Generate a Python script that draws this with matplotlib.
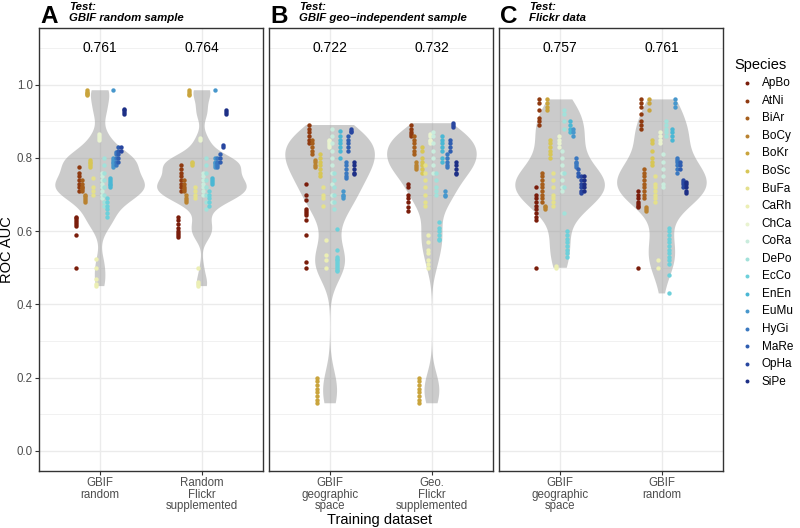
import numpy as np
import matplotlib.pyplot as plt

plt.rcParams['font.family'] = ['Liberation Sans', 'DejaVu Sans']

# species and their colours (brown -> yellow -> cyan -> navy)
species = ['ApBo', 'AtNi', 'BiAr', 'BoCy', 'BoKr', 'BoSc', 'BuFa', 'CaRh', 'ChCa',
           'CoRa', 'DePo', 'EcCo', 'EnEn', 'EuMu', 'HyGi', 'MaRe', 'OpHa', 'SiPe']
species_colors = ['#7a1d0b', '#8f3a10', '#a65e1c', '#b98230', '#c9a43c', '#d7c656',
                  '#e4e08c', '#ecefb4', '#e9f3d0', '#c9ecdd', '#a2e1da', '#6dd0da',
                  '#4ab7d4', '#4797cc', '#3a78c0', '#2f5db0', '#2846a0', '#1d2f86']

panel_tags = ['A', 'B', 'C']
panel_titles = ['GBIF random sample', 'GBIF geo\u2212independent sample', 'Flickr data']
train_labels = [['GBIF\nrandom', 'Random\nFlickr\nsupplemented'],
                ['GBIF\ngeographic\nspace', 'Geo.\nFlickr\nsupplemented'],
                ['GBIF\ngeographic\nspace', 'GBIF\nrandom']]
mean_auc = [[0.761, 0.764], [0.722, 0.732], [0.757, 0.761]]

# ROC AUC per species (order as in `species`)
auc_a_gbif_random = [
    [0.64, 0.635, 0.63, 0.625, 0.62, 0.615, 0.59, 0.50],
    [0.775, 0.76, 0.75, 0.74, 0.73, 0.72, 0.71],
    [0.74, 0.73, 0.72, 0.715, 0.71, 0.72],
    [0.70, 0.695, 0.69, 0.685, 0.68],
    [0.985, 0.98, 0.978, 0.975, 0.972],
    [0.795, 0.79, 0.785, 0.78, 0.775],
    [0.745, 0.72, 0.71, 0.70],
    [0.525, 0.50, 0.47, 0.455, 0.45],
    [0.865, 0.86, 0.855, 0.85],
    [0.76, 0.75, 0.74, 0.73, 0.72, 0.71, 0.70, 0.69],
    [0.80, 0.78, 0.76, 0.74, 0.72, 0.70, 0.68, 0.67],
    [0.69, 0.68, 0.67, 0.66, 0.65, 0.64],
    [0.745, 0.74, 0.735, 0.73, 0.725, 0.72],
    [0.985, 0.80, 0.795, 0.79, 0.785, 0.78, 0.775],
    [0.815, 0.81, 0.80, 0.79, 0.78],
    [0.83, 0.82, 0.81, 0.80, 0.79],
    [0.83, 0.82],
    [0.935, 0.93, 0.925, 0.92],
]
auc_a_flickr_random = [
    [0.64, 0.63, 0.62, 0.61, 0.60, 0.595, 0.59, 0.585],
    [0.78, 0.77, 0.76, 0.75, 0.74, 0.73, 0.72, 0.71],
    [0.74, 0.73, 0.72, 0.715, 0.71],
    [0.70, 0.69, 0.685, 0.68],
    [0.985, 0.98, 0.975, 0.972],
    [0.79, 0.785, 0.78],
    [0.72, 0.71, 0.70, 0.69],
    [0.50, 0.46, 0.455, 0.45],
    [0.855, 0.85],
    [0.76, 0.75, 0.74, 0.73, 0.72, 0.71, 0.70],
    [0.80, 0.78, 0.76, 0.74, 0.72, 0.70, 0.68, 0.66],
    [0.71, 0.70, 0.69, 0.68, 0.67],
    [0.745, 0.74, 0.735, 0.73],
    [0.985, 0.80, 0.79, 0.785, 0.78, 0.775],
    [0.80, 0.79, 0.785, 0.78, 0.775],
    [0.81, 0.80, 0.79],
    [0.835, 0.83],
    [0.93, 0.925, 0.92],
]
auc_b_gbif_geo = [
    [0.73, 0.70, 0.685, 0.66, 0.655, 0.65, 0.645, 0.63, 0.59, 0.515, 0.50],
    [0.89, 0.88, 0.87, 0.86, 0.85, 0.84],
    [0.85, 0.84, 0.83, 0.82, 0.81],
    [0.795, 0.79, 0.78, 0.775],
    [0.20, 0.19, 0.18, 0.17, 0.16, 0.15, 0.14, 0.13],
    [0.81, 0.80, 0.79, 0.78, 0.77, 0.76, 0.75],
    [0.72, 0.70, 0.69, 0.67],
    [0.575, 0.535, 0.52, 0.50],
    [0.85, 0.845, 0.84, 0.835, 0.83],
    [0.88, 0.86, 0.84, 0.82, 0.80, 0.78, 0.76, 0.73, 0.70, 0.68],
    [0.76, 0.74, 0.72, 0.70, 0.68, 0.66],
    [0.605, 0.55, 0.53, 0.525, 0.52, 0.515, 0.51, 0.505, 0.50, 0.495, 0.49],
    [0.875, 0.86, 0.85, 0.84, 0.83, 0.82, 0.80],
    [0.71, 0.70, 0.695, 0.69],
    [0.79, 0.78, 0.77, 0.76, 0.75, 0.745],
    [0.86, 0.85, 0.84, 0.83, 0.82],
    [0.88, 0.875, 0.87],
    [0.79, 0.78, 0.77, 0.76, 0.755],
]
auc_b_flickr_geo = [
    [0.73, 0.72, 0.70, 0.69, 0.68, 0.665, 0.655],
    [0.89, 0.88, 0.87, 0.865, 0.86],
    [0.86, 0.85, 0.84, 0.83, 0.82, 0.81],
    [0.79, 0.78, 0.775, 0.77],
    [0.20, 0.19, 0.18, 0.17, 0.16, 0.15, 0.14, 0.13],
    [0.83, 0.82, 0.80, 0.79, 0.78, 0.77, 0.76],
    [0.78, 0.76, 0.74, 0.72, 0.70, 0.68, 0.67],
    [0.59, 0.57, 0.55, 0.54, 0.52, 0.51, 0.50],
    [0.865, 0.86, 0.85, 0.845, 0.84],
    [0.87, 0.86, 0.84, 0.82, 0.80, 0.78, 0.76],
    [0.76, 0.74, 0.72, 0.71, 0.70],
    [0.625, 0.61, 0.60, 0.59, 0.58, 0.575],
    [0.86, 0.85, 0.84, 0.83, 0.82, 0.80, 0.79],
    [0.71, 0.70, 0.695],
    [0.81, 0.80, 0.79, 0.78, 0.775],
    [0.85, 0.84, 0.83, 0.82],
    [0.895, 0.89, 0.885],
    [0.79, 0.78, 0.77, 0.76, 0.755],
]
auc_c_gbif_geo = [
    [0.72, 0.70, 0.69, 0.68, 0.67, 0.66, 0.65, 0.64, 0.63, 0.50],
    [0.96, 0.95, 0.93, 0.91, 0.90, 0.89],
    [0.76, 0.75, 0.74, 0.73, 0.72, 0.71, 0.70, 0.69, 0.68],
    [0.67, 0.665, 0.66],
    [0.96, 0.95, 0.94, 0.93],
    [0.85, 0.84, 0.83, 0.82, 0.81, 0.80],
    [0.76, 0.74, 0.72, 0.70, 0.69, 0.68, 0.67],
    [0.50, 0.505],
    [0.86, 0.85, 0.84, 0.83],
    [0.82, 0.80, 0.78, 0.76, 0.74, 0.72, 0.71],
    [0.93, 0.92, 0.90, 0.88, 0.76, 0.72, 0.65],
    [0.60, 0.59, 0.58, 0.57, 0.56, 0.55, 0.54, 0.53],
    [0.90, 0.89, 0.88, 0.87],
    [0.88, 0.87, 0.86],
    [0.80, 0.79, 0.785, 0.78, 0.775],
    [0.77, 0.76, 0.75],
    [0.75, 0.74, 0.73, 0.72, 0.71, 0.705],
    [0.75, 0.74, 0.73, 0.72, 0.71],
]
auc_c_gbif_random = [
    [0.71, 0.70, 0.69, 0.68, 0.675, 0.67, 0.665, 0.50],
    [0.96, 0.95, 0.94, 0.92, 0.90, 0.89, 0.88],
    [0.77, 0.76, 0.75, 0.74, 0.73, 0.72, 0.71, 0.70, 0.69],
    [0.665, 0.66, 0.655],
    [0.96, 0.95, 0.93],
    [0.85, 0.84, 0.82, 0.80, 0.79, 0.78],
    [0.75, 0.73, 0.72, 0.71, 0.70, 0.69, 0.68],
    [0.52, 0.50],
    [0.87, 0.86, 0.85, 0.84],
    [0.81, 0.79, 0.77, 0.75, 0.73, 0.72],
    [0.90, 0.89, 0.88, 0.87, 0.86],
    [0.61, 0.60, 0.59, 0.58, 0.57, 0.56, 0.55, 0.54, 0.53, 0.52, 0.51, 0.48, 0.43],
    [0.88, 0.87, 0.86, 0.85],
    [0.96, 0.95, 0.94],
    [0.80, 0.795, 0.79, 0.78, 0.77, 0.76],
    [0.79, 0.78, 0.77],
    [0.74, 0.735, 0.73, 0.72],
    [0.735, 0.73, 0.72, 0.71, 0.705],
]

panel_data = [[auc_a_gbif_random, auc_a_flickr_random],
              [auc_b_gbif_geo, auc_b_flickr_geo],
              [auc_c_gbif_geo, auc_c_gbif_random]]


def nrd0(kde):
    # R's default bandwidth (bw.nrd0), as used by ggplot's violins
    d = kde.dataset.ravel()
    sd = np.std(d, ddof=1)
    q75, q25 = np.percentile(d, [75, 25])
    lo = min(sd, (q75 - q25) / 1.34)
    if lo <= 0:
        lo = sd
    return 0.9 * lo * len(d) ** -0.2 / sd


W, H = 800, 528
fig = plt.figure(figsize=(W / 100, H / 100), dpi=100)

lefts = [39, 269, 499]
top_px, bot_px, width_px = 28, 471, 224
n_sp = len(species)
dodge = 0.5

for p in range(3):
    ax = fig.add_axes([lefts[p] / W, 1 - bot_px / H, width_px / W, (bot_px - top_px) / H])
    ax.set_xlim(0.4, 2.6)
    ax.set_ylim(-0.055, 1.155)
    ax.set_axisbelow(True)

    groups = [np.concatenate(g) for g in panel_data[p]]
    parts = ax.violinplot(groups, positions=[1, 2], widths=0.88, showextrema=False,
                          bw_method=nrd0, points=400)
    for body in parts['bodies']:
        body.set_facecolor('#999999')
        body.set_edgecolor('none')
        body.set_alpha(0.5)
        body.set_zorder(2)

    for g in range(2):
        for i in range(n_sp):
            vals = panel_data[p][g][i]
            xoff = -dodge / 2 + dodge * (i + 0.5) / n_sp
            ax.scatter(np.full(len(vals), g + 1 + xoff), vals, s=10,
                       color=species_colors[i], linewidths=0, zorder=3,
                       label=species[i] if (p == 0 and g == 0) else None)
        ax.text(g + 1, 1.1, f'{mean_auc[p][g]:.3f}', ha='center', va='center',
                fontsize=10, color='black')

    ax.set_xticks([1, 2])
    ax.set_xticklabels(train_labels[p], fontsize=8.3, color='#4d4d4d', linespacing=0.95)
    ax.set_yticks([0, 0.2, 0.4, 0.6, 0.8, 1.0])
    ax.set_yticks([0.1, 0.3, 0.5, 0.7, 0.9, 1.1], minor=True)
    ax.grid(which='major', color='#ebebeb', linewidth=1.0)
    ax.grid(which='minor', color='#ebebeb', linewidth=0.5)
    ax.tick_params(axis='both', which='major', length=3, color='#333333', width=0.8, pad=1.5)
    ax.tick_params(axis='y', which='minor', length=0)
    if p == 0:
        ax.set_yticklabels(['0.0', '0.2', '0.4', '0.6', '0.8', '1.0'],
                           fontsize=8.3, color='#4d4d4d')
        ax.set_ylabel('ROC AUC', fontsize=10.5)
        ax.yaxis.set_label_coords((14 - lefts[0]) / width_px, 0.5)
    else:
        ax.tick_params(axis='y', left=False, labelleft=False)
    for s in ax.spines.values():
        s.set_color('#333333')
        s.set_linewidth(1.0)

    # panel tag and title
    fig.text((lefts[p] + 1) / W, 1 - 23 / H, panel_tags[p], fontsize=17.5,
             fontweight='bold', ha='left', va='baseline')
    fig.text((lefts[p] + 30) / W, 1 - 9.5 / H, 'Test:', fontsize=8.2,
             fontweight='bold', fontstyle='italic', ha='left', va='baseline')
    fig.text((lefts[p] + 30) / W, 1 - 21 / H, panel_titles[p], fontsize=8.2,
             fontweight='bold', fontstyle='italic', ha='left', va='baseline')

    if p == 0:
        handles, labels = ax.get_legend_handles_labels()

fig.text(380 / W, 1 - 520 / H, 'Training dataset', fontsize=10.5, ha='center', va='center')

leg = fig.legend(handles, labels, title='Species', loc='upper left',
                 bbox_to_anchor=(730 / W, 1 - 53 / H), frameon=False, fontsize=8.5,
                 title_fontsize=10.5, alignment='left', labelspacing=0.47,
                 handletextpad=0.3, markerscale=0.9, borderaxespad=0)

fig.savefig('out.png', dpi=100)
